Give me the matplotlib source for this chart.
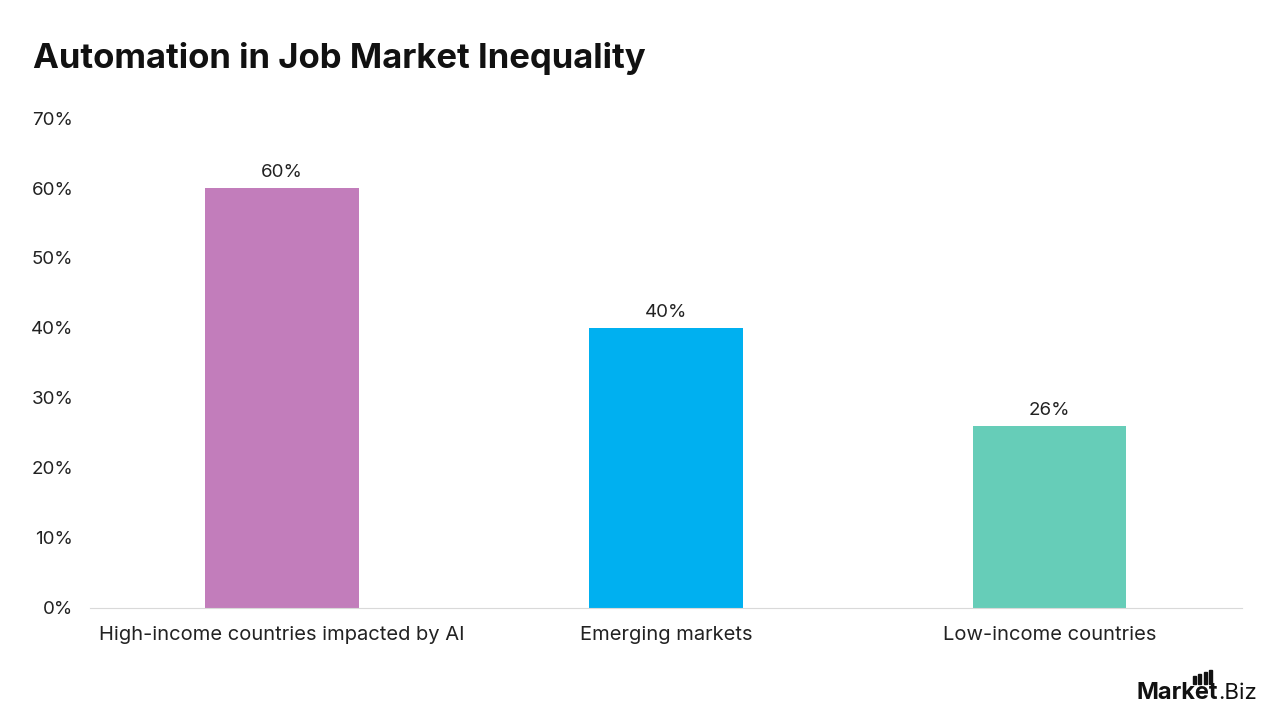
import matplotlib
matplotlib.use("Agg")
import matplotlib.pyplot as plt
from matplotlib.patches import Rectangle

##------DATA-----------------------------------------------------------
categories = ['High-income countries impacted by AI', 'Emerging markets', 'Low-income countries']
values = [60, 40, 26]
bar_colors = ['#C27DBB', '#00B0F0', '#66CDB8']
y_ticks = [0, 10, 20, 30, 40, 50, 60, 70]

plt.rcParams['font.family'] = ['Inter', 'DejaVu Sans']

##------FIGURE---------------------------------------------------------
fig = plt.figure(figsize=(12.8, 7.2), dpi=100)
ax = fig.add_axes([0.0703, 0.1556, 0.8997, 0.6805])

x = range(len(categories))
ax.bar(x, values, width=0.4, color=bar_colors)
for xi, v in zip(x, values):
    ax.text(xi, v + 1.0, f'{v}%', ha='center', va='bottom', fontsize=13.5, color='#222222')

ax.set_xlim(-0.5, 2.5)
ax.set_ylim(0, 70)
ax.set_yticks(y_ticks)
ax.set_yticklabels([f'{t}%' for t in y_ticks], fontsize=13.5, color='#222222')
ax.set_xticks(list(x))
ax.set_xticklabels(categories, fontsize=14.5, color='#222222')
ax.tick_params(axis='both', length=0)
ax.tick_params(axis='y', pad=12)
ax.tick_params(axis='x', pad=13)

for s in ['top', 'right', 'left']:
    ax.spines[s].set_visible(False)
ax.spines['bottom'].set_color('#D9D9D9')

fig.text(0.026, 0.919, 'Automation in Job Market Inequality', fontsize=25,
         fontweight='bold', color='#111111', va='center', ha='left')

##------LOGO-----------------------------------------------------------
fig.text(0.9516, 1 - 699 / 720, 'Market', fontsize=17, fontweight='bold', color='#111111', ha='right', va='baseline')
fig.text(0.9516, 1 - 699 / 720, '.Biz', fontsize=16, color='#111111', ha='left', va='baseline')
for i, top in enumerate([676, 674, 672, 670]):
    x0 = (1193 + i * 5.4) / 1280
    fig.patches.append(Rectangle((x0, 1 - 684 / 720), 2.8 / 1280, (684 - top) / 720,
                                 transform=fig.transFigure, color='#111111'))

fig.savefig('out.png', dpi=100, facecolor='white')
